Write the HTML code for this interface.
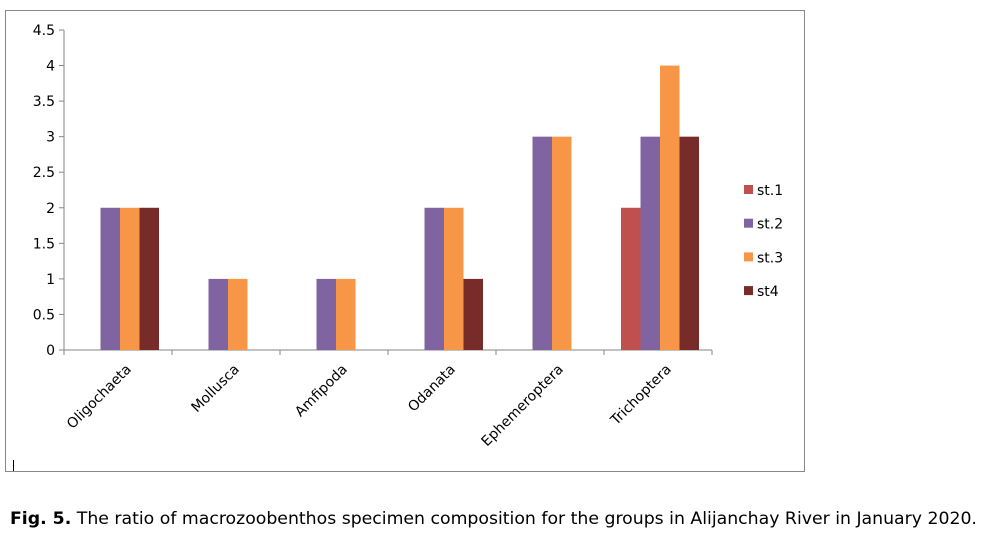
<!DOCTYPE html>
<html><head><meta charset="utf-8"><style>
body{margin:0;background:#fff;width:988px;height:537px;overflow:hidden;font-family:"DejaVu Sans","Liberation Sans",sans-serif}
#cap{position:absolute;left:10px;top:509px;font-size:17.3px;color:#000;white-space:nowrap}
</style></head><body>
<svg id="chart" width="988" height="500" style="position:absolute;left:0;top:0" font-family="DejaVu Sans, Liberation Sans, sans-serif">
<rect x="5.5" y="10.5" width="799" height="461" fill="#fff" stroke="#888"/>
<line x1="13.5" y1="460" x2="13.5" y2="471" stroke="#000"/>
<g id="g"></g>
</svg>
<div id="cap"><b>Fig. 5.</b> The ratio of macrozoobenthos specimen composition for the groups in Alijanchay River in January 2020.</div>
<script>
const categories=["Oligochaeta","Mollusca","Amfipoda","Odanata","Ephemeroptera","Trichoptera"];
const seriesNames=["st.1","st.2","st.3","st4"];
const st1=[0,0,0,0,0,2];
const st2=[2,1,1,2,3,3];
const st3=[2,1,1,2,3,4];
const st4=[2,0,0,1,0,3];
const yTicks=[0,0.5,1,1.5,2,2.5,3,3.5,4,4.5];
const colors=["#C0504D","#8064A2","#F79646","#772C2A"];
const series=[st1,st2,st3,st4];
const L=64,R=712,Y0=350,Ymax=30,vmax=4.5;
const y=v=>Y0-(v/vmax)*(Y0-Ymax);
const cw=(R-L)/categories.length;
const x=i=>L+cw*i;
const ns="http://www.w3.org/2000/svg";
const g=document.getElementById('g');
function mk(t,a,txt){const e=document.createElementNS(ns,t);for(const k in a)e.setAttribute(k,a[k]);if(txt!==undefined)e.textContent=txt;g.appendChild(e);return e;}
let e=mk('line',{x1:L,y1:Ymax,x2:L,y2:Y0,stroke:'#868686'});


e=mk('line',{x1:L,y1:Y0,x2:R,y2:Y0,stroke:'#868686'});


yTicks.forEach(t=>{
 mk('line',{x1:L-5,y1:y(t),x2:L,y2:y(t),stroke:'#868686'});
 const l=mk('text',{x:L-9,y:y(t)+5,'text-anchor':'end','font-size':14,fill:'#000'},String(t));
 
 
});
for(let i=0;i<=categories.length;i++)mk('line',{x1:x(i),y1:Y0,x2:x(i),y2:Y0+5,stroke:'#868686'});
const bw=19.5;
categories.forEach((c,i)=>{
 const cx=x(i)+cw/2+2;
 series.forEach((s,j)=>{
  if(s[i]>0){
   const b=mk('rect',{x:cx-2*bw+j*bw,y:y(s[i]),width:bw,height:Y0-y(s[i]),fill:colors[j]});
   
   
  }
 });
 const t=mk('text',{x:cx+12,y:Y0+20,'text-anchor':'end','font-size':14,fill:'#000',transform:`rotate(-45 ${cx+12} ${Y0+20})`},c);
 
 
});
seriesNames.forEach((n,j)=>{
 const yy=190+j*33.7;
 const r=mk('rect',{x:744,y:yy-5,width:9,height:9,fill:colors[j]});
 
 
 const t=mk('text',{x:757,y:yy+5,'font-size':14,fill:'#000'},n);
 
 
});
</script>
</body></html>
